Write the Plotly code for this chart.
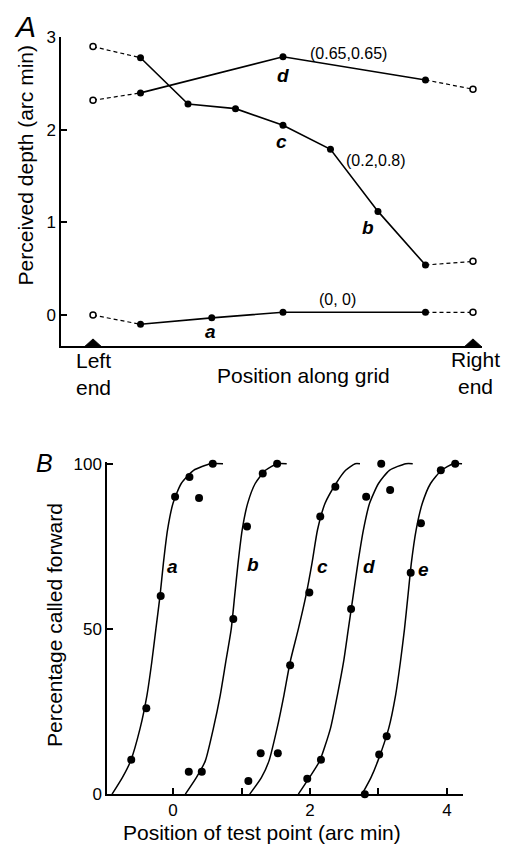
import plotly.graph_objects as go

# ---------------- Panel A data ----------------
pos_end_left = 0
pos_end_right = 8
# series a (0, 0)
a_x = [1, 2.5, 4, 7]
a_y = [-0.10, -0.03, 0.03, 0.03]
a_open_y = [0.00, 0.03]          # left end, right end
# series b/c (0.2, 0.8)
bc_x = [1, 2, 3, 4, 5, 6, 7]
bc_y = [2.78, 2.28, 2.23, 2.05, 1.79, 1.12, 0.54]
bc_open_y = [2.90, 0.58]
# series d (0.65, 0.65)
d_x = [1, 4, 7]
d_y = [2.40, 2.79, 2.54]
d_open_y = [2.32, 2.44]

# ---------------- Panel B data ----------------
pts = {
    "a": ([-0.61, -0.39, -0.18, 0.03, 0.24, 0.38, 0.58], [10.4, 26, 60, 90, 96, 89.6, 100]),
    "b": ([0.23, 0.42, 0.88, 1.08, 1.31, 1.52], [6.8, 6.8, 53, 81, 97, 100]),
    "c": ([1.10, 1.28, 1.53, 1.71, 1.99, 2.15, 2.37], [4, 12.4, 12.4, 39, 61, 84, 93]),
    "d": ([1.96, 2.16, 2.60, 2.82, 3.04, 3.17], [4.7, 10.4, 56, 90, 100, 92]),
    "e": ([2.80, 3.01, 3.12, 3.47, 3.62, 3.91, 4.12], [0, 12, 17.5, 67, 82, 98, 100]),
}
curve_pct = [0, 5, 10, 20, 30, 40, 50, 60, 70, 80, 88, 94, 98, 100, 100]
curve_x = {
    "a": [-0.89, -0.74, -0.62, -0.48, -0.38, -0.31, -0.25, -0.19, -0.14, -0.08, 0.00, 0.12, 0.30, 0.55, 0.73],
    "b": [0.18, 0.34, 0.47, 0.59, 0.69, 0.77, 0.85, 0.90, 0.95, 1.01, 1.09, 1.20, 1.35, 1.52, 1.66],
    "c": [1.12, 1.29, 1.40, 1.52, 1.62, 1.71, 1.83, 1.94, 2.03, 2.11, 2.22, 2.38, 2.52, 2.66, 2.73],
    "d": [1.83, 1.99, 2.14, 2.30, 2.40, 2.49, 2.56, 2.63, 2.70, 2.78, 2.87, 3.00, 3.16, 3.40, 3.50],
    "e": [2.76, 2.89, 2.99, 3.15, 3.25, 3.32, 3.38, 3.43, 3.48, 3.55, 3.64, 3.76, 3.92, 4.09, 4.22],
}
curve_label_pos = {"a": (-0.01, 69), "b": (1.17, 69.5), "c": (2.18, 69), "d": (2.86, 69), "e": (3.66, 68)}

W, H = 506, 856
FONT = "Liberation Sans, Arial, Helvetica, sans-serif"
def px(x): return x / W
def py(y): return 1 - y / H

fig = go.Figure()

# ---- Panel A traces ----
for xs, ys, oy in [(a_x, a_y, a_open_y), (bc_x, bc_y, bc_open_y), (d_x, d_y, d_open_y)]:
    fig.add_trace(go.Scatter(x=[pos_end_left, xs[0]], y=[oy[0], ys[0]], mode="lines",
                             line=dict(color="black", width=1.2, dash="4px,3px"),
                             xaxis="x", yaxis="y", showlegend=False, hoverinfo="skip"))
    fig.add_trace(go.Scatter(x=[xs[-1], pos_end_right], y=[ys[-1], oy[1]], mode="lines",
                             line=dict(color="black", width=1.2, dash="4px,3px"),
                             xaxis="x", yaxis="y", showlegend=False, hoverinfo="skip"))
    fig.add_trace(go.Scatter(x=xs, y=ys, mode="lines+markers",
                             line=dict(color="black", width=1.6),
                             marker=dict(color="black", size=7),
                             xaxis="x", yaxis="y", showlegend=False, cliponaxis=False))
    fig.add_trace(go.Scatter(x=[pos_end_left, pos_end_right], y=oy, mode="markers",
                             marker=dict(color="white", size=6, line=dict(color="black", width=1.5)),
                             xaxis="x", yaxis="y", showlegend=False, cliponaxis=False))

# end triangles on the bottom axis of panel A
yA_min = -0.338
for p in [pos_end_left, pos_end_right]:
    fig.add_trace(go.Scatter(x=[p - 0.17, p, p + 0.17, p - 0.17],
                             y=[yA_min, yA_min + 0.08, yA_min, yA_min],
                             mode="lines", fill="toself", fillcolor="black",
                             line=dict(color="black", width=1),
                             xaxis="x", yaxis="y", showlegend=False, hoverinfo="skip"))

# ---- Panel B traces ----
for k in ["a", "b", "c", "d", "e"]:
    fig.add_trace(go.Scatter(x=curve_x[k], y=curve_pct, mode="lines",
                             line=dict(color="black", width=1.5, shape="spline", smoothing=0.6),
                             xaxis="x2", yaxis="y2", showlegend=False, hoverinfo="skip"))
    mx, my = pts[k]
    fig.add_trace(go.Scatter(x=mx, y=my, mode="markers",
                             marker=dict(color="black", size=8),
                             xaxis="x2", yaxis="y2", showlegend=False, cliponaxis=False))

annotations = []
for txt, x, y, sz, bold in [("(0.65,0.65)", 5.37, 2.83, 16, False), ("d", 4.0, 2.59, 19, True),
                            ("c", 3.96, 1.87, 19, True), ("(0.2,0.8)", 5.96, 1.67, 16, False),
                            ("b", 5.79, 0.95, 19, True), ("(0, 0)", 5.14, 0.17, 16, False),
                            ("a", 2.48, -0.18, 19, True)]:
    t = f"<b><i>{txt}</i></b>" if bold else txt
    annotations.append(dict(text=t, x=x, y=y, xref="x", yref="y", showarrow=False,
                            font=dict(size=sz, color="black", family=FONT)))
for k, (x, y) in curve_label_pos.items():
    annotations.append(dict(text=f"<b><i>{k}</i></b>", x=x, y=y, xref="x2", yref="y2",
                            showarrow=False, font=dict(size=19, color="black", family=FONT)))

for txt, x, y, sz, ang in [
    ("<i>A</i>", 25, 18, 30, 0),
    ("<i>B</i>", 44, 464, 25, 0),
    ("Perceived depth (arc min)", 25, 160, 21, -90),
    ("Left<br>end", 93, 373, 21, 0),
    ("Position along grid", 303, 375, 21, 0),
    ("Right<br>end", 475, 372, 21, 0),
    ("Percentage called forward", 54, 630, 21, -90),
    ("Position of test point (arc min)", 262, 842, 21, 0),
]:
    annotations.append(dict(text=txt, x=px(x), y=py(y), xref="paper", yref="paper",
                            showarrow=False, textangle=ang, xanchor="center", yanchor="middle",
                            font=dict(size=sz, color="black", family=FONT)))

axis_common = dict(showgrid=False, zeroline=False, showline=True, linecolor="black",
                   linewidth=1.5, tickcolor="black", tickwidth=1.5,
                   tickfont=dict(size=17, color="black", family=FONT))

yB_top = 100.5
fig.update_layout(
    width=W, height=H, margin=dict(l=0, r=0, t=0, b=0),
    paper_bgcolor="white", plot_bgcolor="white",
    font=dict(family=FONT, color="black"),
    xaxis=dict(domain=[px(61), px(482)], range=[-0.674, 8.19], anchor="y",
               showticklabels=False, ticks="", **axis_common),
    yaxis=dict(domain=[py(345), py(29)], range=[yA_min, 3], anchor="x",
               tickvals=[0, 1, 2, 3], ticks="inside", ticklen=6, **axis_common),
    xaxis2=dict(domain=[px(107), px(463)], range=[-0.964, 4.234], anchor="y2",
                tickvals=[0, 1, 2, 3, 4], ticktext=["0", "", "2", "", "4"],
                ticks="inside", ticklen=6, **axis_common),
    yaxis2=dict(domain=[py(803), py(803 - yB_top * 3.38)], range=[0, yB_top], anchor="x2",
                tickvals=[0, 50, 100], ticks="inside", ticklen=6, **axis_common),
    annotations=annotations,
)

fig.write_html("out.html", config={"displayModeBar": False},
               post_script="document.body.style.margin='0';document.body.style.overflow='hidden';")
